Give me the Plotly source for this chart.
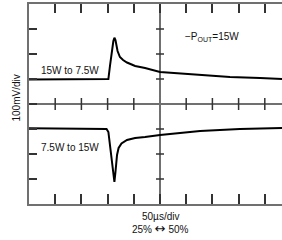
import plotly.graph_objects as go

# time in divisions (50us/div), voltage in divisions (100mV/div)
t_top = [0, 2.94, 3.03, 3.09, 3.17, 3.22, 3.26, 3.30, 3.38, 3.47, 3.59, 3.74, 4.05, 4.43, 5.0, 6.53, 7.67, 8.82, 9.66, 10.0]
v_top = [0.98, 0.98, 1.0, 1.52, 2.16, 2.52, 2.65, 2.56, 2.12, 1.88, 1.76, 1.66, 1.52, 1.44, 1.28, 1.16, 1.08, 1.04, 1.0, 0.99]

t_bot = [0, 2.86, 2.96, 3.03, 3.09, 3.17, 3.23, 3.26, 3.30, 3.36, 3.42, 3.53, 3.74, 4.05, 4.43, 5.0, 6.53, 8.05, 9.66, 10.0]
v_bot = [-0.97, -0.97, -1.0, -1.12, -1.64, -2.44, -2.96, -3.12, -2.72, -2.04, -1.76, -1.58, -1.44, -1.36, -1.32, -1.24, -1.08, -1.0, -0.96, -0.96]

x_divs = [1, 2, 3, 4, 5, 6, 7, 8, 9]
y_divs = [-3, -2, -1, 0, 1, 2, 3]

GRAY = "#707070"
TICK = "#333333"
FONT = "Liberation Sans, Arial, sans-serif"
TXT = "#111111"

fig = go.Figure()
for t, v in ((t_top, v_top), (t_bot, v_bot)):
    fig.add_trace(go.Scatter(x=t, y=v, mode="lines",
                             line=dict(color="black", width=2), showlegend=False,
                             hoverinfo="skip"))
# invisible trace to activate the top axis
fig.add_trace(go.Scatter(x=[0], y=[0], xaxis="x2", mode="markers",
                         marker=dict(opacity=0), showlegend=False,
                         hoverinfo="skip"))

shapes = []
# center crosshair
shapes.append(dict(type="line", xref="x", yref="y", x0=5, x1=5, y0=-4, y1=4,
                   line=dict(color=GRAY, width=2), layer="below"))
shapes.append(dict(type="line", xref="x", yref="y", x0=0, x1=10, y0=0, y1=0,
                   line=dict(color=GRAY, width=2), layer="below"))
# ticks on horizontal center line
for xv in x_divs:
    if xv == 5:
        continue
    shapes.append(dict(type="line", xref="x", yref="y", xsizemode="scaled",
                       ysizemode="pixel", yanchor=0, x0=xv, x1=xv, y0=-6, y1=6,
                       line=dict(color=TICK, width=1.5)))
# ticks on vertical center line
for yv in y_divs:
    if yv == 0:
        continue
    shapes.append(dict(type="line", xref="x", yref="y", xsizemode="pixel",
                       xanchor=5, ysizemode="scaled", x0=-4, x1=4, y0=yv, y1=yv,
                       line=dict(color=TICK, width=1.5)))

XR = [0, 253 / 26.2]
fig.update_layout(
    width=282, height=240,
    margin=dict(l=29, r=0, t=4, b=36, pad=0),
    paper_bgcolor="white", plot_bgcolor="white",
    shapes=shapes,
    xaxis=dict(range=XR, showgrid=False, zeroline=False,
               showline=True, linecolor=GRAY, linewidth=2,
               ticks="inside", ticklen=10, tickwidth=1.5, tickcolor=TICK,
               tickvals=x_divs, showticklabels=False, fixedrange=True),
    xaxis2=dict(range=XR, overlaying="x", side="top",
                showgrid=False, zeroline=False, showline=True,
                linecolor=GRAY, linewidth=2, ticks="inside", ticklen=9,
                tickwidth=1.5, tickcolor=TICK, tickvals=x_divs,
                showticklabels=False, fixedrange=True),
    yaxis=dict(range=[-4, 4], showgrid=False, zeroline=False,
               showline=True, linecolor=GRAY, linewidth=2,
               ticks="inside", ticklen=8, tickwidth=1.5, tickcolor=TICK,
               tickvals=y_divs, showticklabels=False, fixedrange=True),
    font=dict(family=FONT, size=10, color=TXT),
)

ann = [
    dict(text="15W to 7.5W", x=1.56, y=1.36),
    dict(text="7.5W to 15W", x=1.55, y=-1.72),
    dict(text="\u2212P<sub>OUT</sub>=15W", x=7.0, y=2.70),
]
for a in ann:
    fig.add_annotation(text=a["text"], x=a["x"], y=a["y"], xref="x", yref="y",
                       showarrow=False, font=dict(family=FONT, size=10, color=TXT))

fig.add_annotation(text="100mV/div", textangle=-90,
                   x=(16 - 29) / 253, y=(204 - 98.5) / 200,
                   xref="paper", yref="paper", xanchor="center", yanchor="middle",
                   showarrow=False, font=dict(family=FONT, size=10, color=TXT))
fig.add_annotation(text="50\u00b5s/div", x=5.0, y=-4, xref="x", yref="y",
                   yshift=-12, showarrow=False,
                   font=dict(family=FONT, size=10, color=TXT))
fig.add_annotation(text="25% <span style='font-family:DejaVu Sans;font-size:13px'>\u2194</span> 50%",
                   x=5.0, y=-4, xref="x", yref="y",
                   yshift=-24, showarrow=False,
                   font=dict(family=FONT, size=10, color=TXT))

fig.write_html("out.html", config={"displayModeBar": False},
               post_script="document.body.style.margin='0';document.body.style.padding='0';")
